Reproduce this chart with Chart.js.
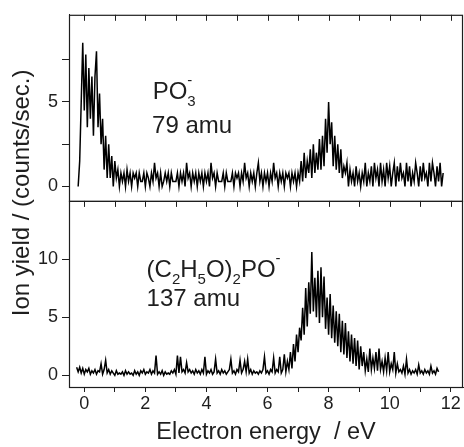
<!DOCTYPE html>
<html>
<head>
<meta charset="utf-8">
<script src="https://cdn.jsdelivr.net/npm/chart.js@4.4.1/dist/chart.umd.min.js"></script>
<style>
  html, body { margin: 0; padding: 0; background: #fff; }
  #wrap { position: relative; width: 464px; height: 447px; }
</style>
</head>
<body>
<div id="wrap"><canvas id="spectra" width="464" height="447"></canvas></div>
<script>
// energy grid: both scans were recorded in 0.05 eV steps
var energyStep = 0.05;

// PO3- (79 amu), first point at -0.20 eV
var po3Start = -0.2;
var po3Yield = [
  0, 1.5, 5.0, 8.5, 4.5, 7.8, 3.5, 7.0, 4.0, 6.5, 3.0, 6.5, 8.0, 3.5, 5.5, 2.5, 4.0, 1.0, 3.0, 0.5,
  2.5, 0.5, 1.8, 0, 1.5, 0.5, 1.0, 0, 0.8, 0.3, 0.8, 0, 1.0, 0.3, 0.8, 0, 0.8, 0.5, 0.8, 0,
  0.8, 0.3, 0.3, 0.8, 0, 0.8, 0.5, 0, 0.8, 0.3, 1.4, 0.5, 0.8, 0, 0.8, 0, 0.3, 0.8, 0.3, 0.8,
  0, 0.8, 0.3, 0.3, 0.3, 0.8, 0, 0.8, 0.3, 0.8, 0, 1.4, 0.5, 0.8, 0, 0.8, 0.3, 0.8, 0, 0.8,
  0.3, 0.8, 0, 0.8, 0.3, 0.8, 0, 1.4, 0.5, 0.8, 0, 0.8, 0.3, 0.3, 0.3, 0.8, 0, 0.8, 0.3, 0.3,
  0.3, 0.8, 0, 0.8, 0.5, 0.8, 0, 0.8, 0.3, 1.4, 0.5, 0.8, 0, 0.8, 0.3, 0.8, 0, 0.8, 1.4, 0.3,
  0.8, 0, 0.8, 0.3, 0.8, 0, 0.8, 0.3, 1.4, 0.5, 0.8, 0, 0.8, 0.3, 0.8, 0, 0.8, 0.5, 0.8, 0,
  0.8, 0.3, 0.8, 0, 0.8, 0.3, 1.5, 0.3, 2.0, 0.5, 1.5, 0.8, 2.2, 0.5, 2.5, 0.8, 2.0, 1.0, 2.8, 1.0,
  3.0, 1.2, 4.0, 2.0, 5.0, 2.5, 3.8, 1.2, 3.0, 1.0, 2.5, 0.8, 2.2, 0.5, 1.2, 0.8, 1.4, 0, 1.0, 0.3,
  0.8, 0, 1.2, 0.3, 0.8, 0, 0.8, 0.3, 1.4, 0, 0.8, 0.3, 1.2, 0, 1.4, 0.5, 1.0, 0, 1.4, 0.3,
  1.0, 0, 1.4, 0.5, 1.2, 0, 0.8, 1.4, 0, 1.2, 0.3, 1.4, 0.5, 0.8, 0, 1.4, 0.3, 1.2, 0, 0.8,
  0.3, 1.4, 0.8, 0, 1.2, 0.3, 1.4, 0.5, 0.8, 0, 1.4, 0.3, 1.4, 0.8, 0, 1.2, 0.3, 1.4, 0, 0.8
];

// (C2H5O)2PO- (137 amu), first point at -0.25 eV
var dephStart = -0.25;
var dephYield = [
  0.7, 0.3, 0.7, 0.2, 0.6, 0.1, 0.5, 0.3, 0.6, 0.1, 0.4, 0.2, 0.5, 0.1, 0.4, 0.3, 1.0, 0.1, 0.5, 1.3,
  0.2, 0.5, 0.1, 0.4, 0.2, 0, 0.4, 0.1, 0.2, 0.1, 0.3, 0, 0.4, 0.1, 0.3, 0.1, 0.2, 0, 0.4, 0.1,
  0.3, 0, 0.4, 0.2, 0.5, 0.1, 0.3, 0.2, 0.5, 0.1, 0.4, 0.2, 1.7, 0.1, 0.3, 0.1, 0.4, 0, 0.3, 0.1,
  0.2, 0.1, 0.4, 0.2, 0.5, 0.1, 1.7, 0.2, 1.6, 0.3, 0.5, 0.2, 1.1, 0.3, 0.5, 0.2, 0.4, 0.1, 0.5, 0.2,
  0.4, 0.1, 0.5, 0.2, 1.6, 0.1, 0.4, 0.2, 0.5, 0.1, 0.3, 1.4, 0.2, 0.4, 0.1, 0.5, 0.2, 0.4, 0.1, 0.3,
  0.5, 1.4, 0.2, 0.4, 0.1, 0.5, 0.3, 1.3, 0.2, 0.5, 1.2, 0.3, 1.4, 0.2, 0.5, 0.1, 0.4, 0.2, 0.3, 0.1,
  0.4, 0.2, 0.5, 1.6, 0.2, 0.4, 0.1, 0.5, 0.3, 1.5, 0.2, 0.5, 0.3, 1.6, 0.2, 0.5, 1.8, 0.3, 1.2, 0.5,
  2.0, 0.6, 2.7, 1.2, 3.5, 2.0, 4.1, 3.0, 5.8, 3.5, 7.5, 4.2, 8.0, 5.3, 10.6, 5.5, 8.4, 5.0, 9.0, 4.5,
  9.3, 5.0, 8.5, 4.0, 6.7, 3.5, 7.0, 3.2, 6.0, 2.8, 5.5, 2.5, 5.3, 2.0, 4.7, 1.8, 4.5, 1.5, 3.8, 1.2,
  3.5, 1.0, 3.2, 0.8, 3.0, 0.5, 2.5, 0.8, 2.0, 0.4, 1.4, 0.3, 2.3, 0.5, 1.5, 0.6, 2.0, 0.4, 2.3, 0.5,
  1.2, 0.3, 1.5, 0.4, 2.0, 0.3, 1.0, 0.5, 2.0, 0.2, 1.0, 0.3, 0.5, 0.2, 0.8, 0.1, 1.4, 0.2, 0.5, 0.1,
  0.4, 0.2, 0.5, 0.1, 0.9, 0.2, 0.4, 0.1, 0.5, 0.2, 0.4, 0.1, 0.8, 0.2, 0.4, 0.1, 0.6, 0.3
];

var xTickValues = [0, 1, 2, 3, 4, 5, 6, 7, 8, 9, 10, 11, 12];
var topTickValues = [0, 2.5, 5, 7.5];
var bottomTickValues = [0, 2.5, 5, 7.5, 10, 12.5];

var FONT = '"Liberation Sans", Arial, Helvetica, sans-serif';
var INK = '#1e1e1e';

function toPoints(start, values) {
  return values.map(function(v, i) { return { x: start + i * energyStep, y: v }; });
}

function setTicks(values) {
  return function(scale) { scale.ticks = values.map(function(v) { return { value: v }; }); };
}

function evenLabel(step) {
  return function(v) { return (Math.abs(v / step - Math.round(v / step)) < 1e-6) ? String(v) : ''; };
}

// frame, inner ticks, titles and panel labels
var framePlugin = {
  id: 'frame',
  afterDraw: function(chart, args, opts) {
    var ctx = chart.ctx, xs = chart.scales.x, area = chart.chartArea;
    ctx.save();
    ctx.strokeStyle = INK;
    ctx.lineWidth = 1.2;
    ['yTop', 'yBot'].forEach(function(id) {
      var s = chart.scales[id];
      ctx.strokeRect(area.left + 0.5, s.top + 0.5, area.right - area.left - 1, s.bottom - s.top);
    });
    // inward x ticks on the top edge of each panel
    ctx.lineWidth = 1;
    ['yTop', 'yBot'].forEach(function(id) {
      var s = chart.scales[id];
      xTickValues.forEach(function(v) {
        var px = Math.round(xs.getPixelForValue(v)) + 0.5;
        ctx.beginPath();
        ctx.moveTo(px, s.top);
        ctx.lineTo(px, s.top + 6);
        ctx.stroke();
      });
    });

    ctx.fillStyle = INK;
    // y title, centred on both panels
    ctx.save();
    ctx.translate(opts.yTitleX, (chart.scales.yTop.top + chart.scales.yBot.bottom) / 2 - 8);
    ctx.rotate(-Math.PI / 2);
    ctx.font = '24px ' + FONT;
    ctx.textAlign = 'center';
    ctx.textBaseline = 'middle';
    ctx.fillText(opts.yTitle, 0, 0);
    ctx.restore();

    ctx.textAlign = 'left';
    ctx.textBaseline = 'alphabetic';
    opts.labels.forEach(function(item) {
      var ys = chart.scales[item.axis];
      var px = xs.getPixelForValue(item.x);
      var py = ys.getPixelForValue(item.y);
      item.parts.forEach(function(p) {
        var kind = p[1] || '';
        var dy = kind === 'sub' ? 7 : kind === 'sup' ? -14 : 0;
        ctx.font = (kind ? '15px ' : '24px ') + FONT;
        ctx.fillText(p[0], px, py + dy);
        if (!p[2]) px += ctx.measureText(p[0]).width;
      });
    });
    ctx.restore();
  }
};

var tickFont = { family: FONT, size: 18 };

new Chart(document.getElementById('spectra'), {
  type: 'line',
  data: {
    datasets: [
      { label: 'PO3-', data: toPoints(po3Start, po3Yield), xAxisID: 'x', yAxisID: 'yTop',
        borderColor: '#000', borderWidth: 1.5, pointRadius: 0, tension: 0 },
      { label: '(C2H5O)2PO-', data: toPoints(dephStart, dephYield), xAxisID: 'x', yAxisID: 'yBot',
        borderColor: '#000', borderWidth: 1.5, pointRadius: 0, tension: 0 }
    ]
  },
  options: {
    responsive: false,
    animation: false,
    devicePixelRatio: 1,
    layout: { padding: { top: 10, right: 1, left: 0, bottom: 0 } },
    plugins: {
      legend: { display: false },
      tooltip: { enabled: false },
      frame: {
        yTitle: 'Ion yield / (counts/sec.)',
        yTitleX: 22,
        labels: [
          { axis: 'yTop', x: 2.24, y: 5.2, parts: [['PO'], ['3', 'sub', true], ['-', 'sup']] },
          { axis: 'yTop', x: 2.22, y: 3.15, parts: [['79 amu']] },
          { axis: 'yBot', x: 2.04, y: 8.5, parts: [['(C'], ['2', 'sub'], ['H'], ['5', 'sub'], ['O)'], ['2', 'sub'], ['PO'], ['-', 'sup']] },
          { axis: 'yBot', x: 2.04, y: 5.95, parts: [['137 amu']] }
        ]
      }
    },
    scales: {
      x: {
        type: 'linear', position: 'bottom', min: -0.5, max: 12.4,
        afterBuildTicks: setTicks(xTickValues),
        afterFit: function(s) { s.height = 60; },
        grid: { drawOnChartArea: false, drawTicks: true, tickLength: 5, color: INK },
        border: { display: true, color: INK, width: 1 },
        ticks: { font: tickFont, color: INK, padding: 1, maxRotation: 0, autoSkip: false, callback: evenLabel(2) },
        title: { display: true, text: 'Electron energy  / eV', font: { family: FONT, size: 23.5 }, color: INK, padding: { top: 0, bottom: 0 } }
      },
      yBot: {
        type: 'linear', position: 'left', stack: 'panels', stackWeight: 1, min: -1, max: 15,
        afterBuildTicks: setTicks(bottomTickValues),
        afterFit: function(s) { s.width = 69; },
        grid: { drawOnChartArea: false, drawTicks: true, tickLength: 7, color: INK },
        border: { display: true, color: INK, width: 1 },
        ticks: { font: tickFont, color: INK, padding: 4, callback: evenLabel(5) }
      },
      yTop: {
        type: 'linear', position: 'left', stack: 'panels', stackWeight: 1, min: -0.85, max: 10.15,
        afterBuildTicks: setTicks(topTickValues),
        afterFit: function(s) { s.width = 69; },
        grid: { drawOnChartArea: false, drawTicks: true, tickLength: 7, color: INK },
        border: { display: true, color: INK, width: 1 },
        ticks: { font: tickFont, color: INK, padding: 4, callback: evenLabel(5) }
      }
    }
  },
  plugins: [framePlugin]
});
</script>
</body>
</html>
